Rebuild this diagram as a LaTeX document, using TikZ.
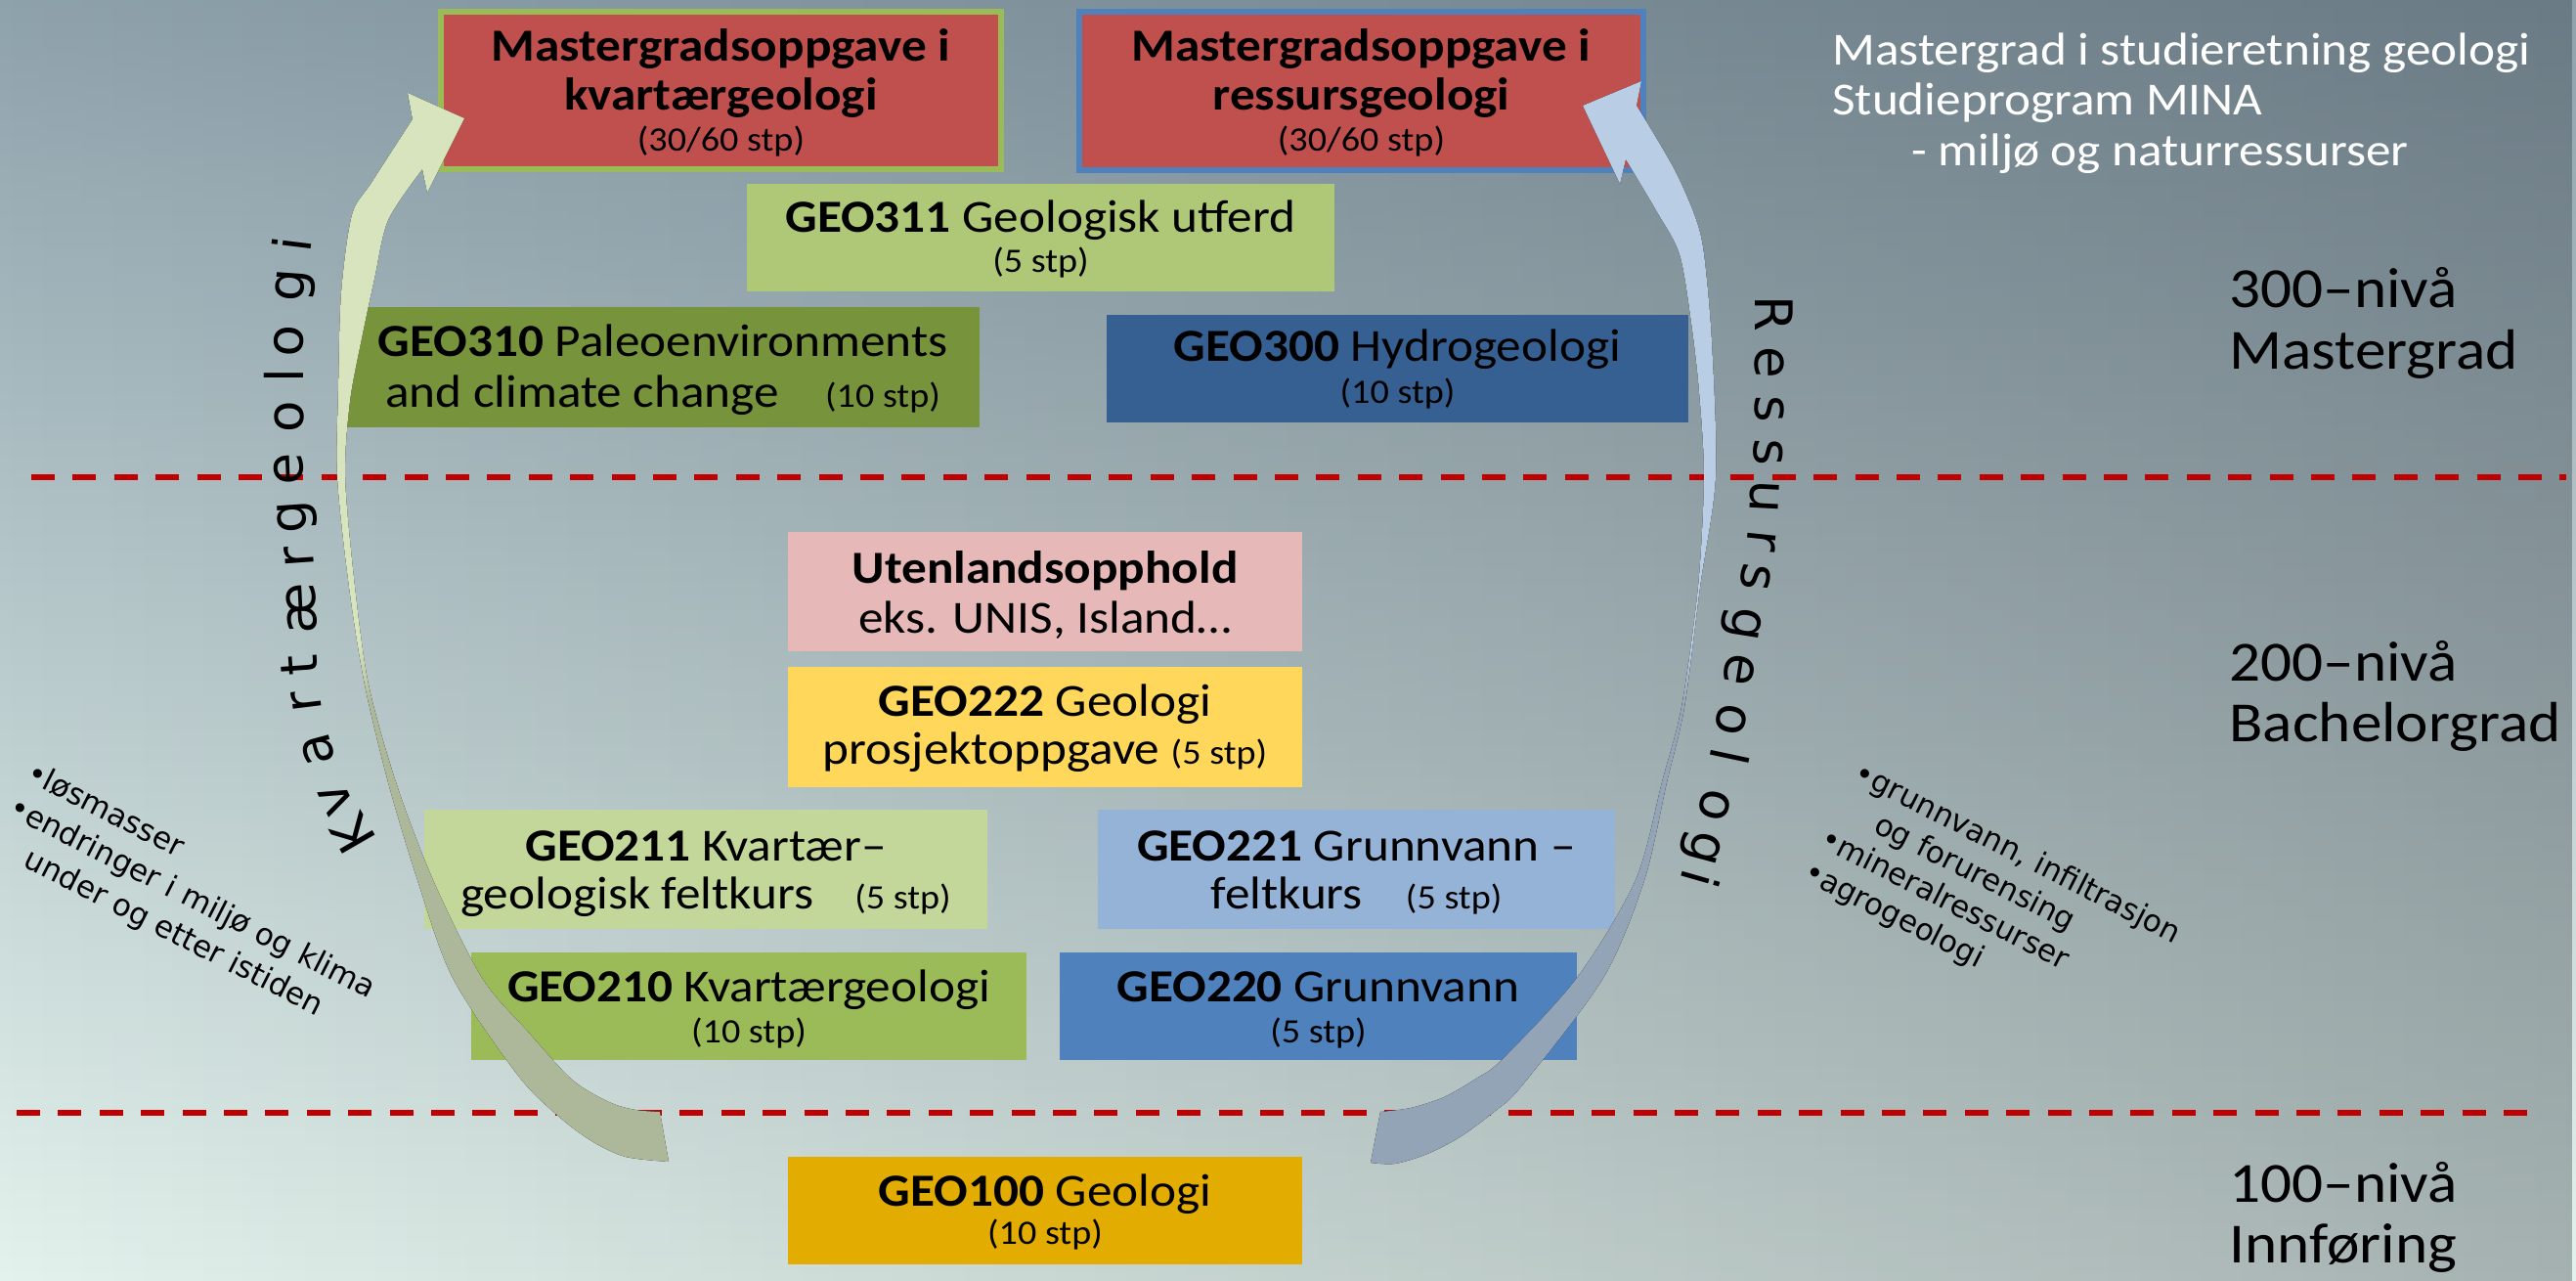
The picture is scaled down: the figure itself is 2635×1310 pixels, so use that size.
\documentclass[tikz,border=0pt]{standalone}
\usepackage{fontspec}
\setmainfont{Carlito}[FakeStretch=1.09]
\newfontfamily\dvs{DejaVu Sans}
\usetikzlibrary{fadings}
\definecolor{bgTL}{HTML}{8EA2AC}
\definecolor{bgML}{HTML}{B2C6CB}
\definecolor{bgBL}{HTML}{E3F2EC}
\definecolor{bgDK}{HTML}{1C232D}
\definecolor{mred}{HTML}{C0504D}
\definecolor{mgreen}{HTML}{9BBB59}
\definecolor{mblue}{HTML}{4F81BD}
\definecolor{c311}{HTML}{AEC878}
\definecolor{c310}{HTML}{77933C}
\definecolor{c300}{HTML}{376092}
\definecolor{cut}{HTML}{E6B9B8}
\definecolor{c222}{HTML}{FFD75A}
\definecolor{c211}{HTML}{C4D79B}
\definecolor{c221}{HTML}{95B3D7}
\definecolor{c210}{HTML}{9BBB59}
\definecolor{c220}{HTML}{4F81BD}
\definecolor{c100}{HTML}{E3AC00}
\definecolor{dred}{HTML}{C00000}
\definecolor{kvL}{HTML}{D7E4BD}
\definecolor{kvD}{HTML}{ADB89B}
\definecolor{rsL}{HTML}{B9CDE5}
\definecolor{rsD}{HTML}{94A4B7}
\newcommand\mainsz{\fontsize{23.5}{28}\selectfont}
\newcommand\smsz{\fontsize{17.5}{20}\selectfont}
\newcommand\lvlsz{\fontsize{29}{34}\selectfont}
\newcommand\bulsz{\dvs\fontsize{15.5}{18}\selectfont}
\newcommand\curvsz{\dvs\fontsize{26.5}{30}\selectfont}
\newcommand\rw[2]{\rule[-#2]{0pt}{\dimexpr#1+#2\relax}}
\renewcommand\arraystretch{0}
\tikzfading[name=fadeR, left color=transparent!100, right color=transparent!0]
\pgfdeclareverticalshading{kvsh}{100bp}{color(0bp)=(kvD); color(46.5bp)=(kvD); color(49.2bp)=(kvL); color(100bp)=(kvL)}
\pgfdeclareverticalshading{rssh}{100bp}{color(0bp)=(rsD); color(46.3bp)=(rsD); color(49bp)=(rsL); color(100bp)=(rsL)}
\begin{document}
\begin{tikzpicture}[x=0.5pt,y=-0.5pt,
  bx/.style={rectangle, inner sep=0pt, outer sep=0pt, font=\mainsz},
  lvl/.style={anchor=base west, inner sep=0pt, font=\lvlsz},
  wt/.style={anchor=base west, inner sep=0pt, font=\mainsz, text=white},
  bul/.style={anchor=base west, inner sep=0pt, rotate=-27, font=\bulsz},
  cl/.style={anchor=base, inner sep=0pt, font=\curvsz},
  dashln/.style={draw=dred, line width=3pt, dash pattern=on 12pt off 9.2pt}]
\useasboundingbox (0,0) rectangle (2635,1310);
% background
\fill[top color=bgTL, middle color=bgML, bottom color=bgBL] (0,0) rectangle (2635,1310);
\fill[bgDK, path fading=fadeR, fill opacity=0.31] (0,0) rectangle (2635,1310);
% dashed level lines
\coordinate (d1a) at (32,488);
\coordinate (d1b) at (2625,488);
\coordinate (d2a) at (17,1138);
\coordinate (d2b) at (2591,1138);
\draw[dashln] (d1a) -- (d1b);
\draw[dashln] (d2a) -- (d2b);
% boxes with their texts
\node[bx, fill=mred, draw=mgreen, line width=3pt, minimum width=286.5pt] (m1) at (737.5,92.5)
  {\begin{tabular}{@{}c@{}}\rw{25.5pt}{6.5pt}\bfseries Mastergradsoppgave i\\ \rw{18.5pt}{6.5pt}\bfseries kvartærgeologi\\ \rw{14.5pt}{9pt}\smsz (30/60 stp)\end{tabular}};
\node[bx, fill=mred, draw=mblue, line width=3pt, minimum width=288.5pt] (m2) at (1392.5,93)
  {\begin{tabular}{@{}c@{}}\rw{25.5pt}{6.5pt}\bfseries Mastergradsoppgave i\\ \rw{18.5pt}{6.5pt}\bfseries ressursgeologi\\ \rw{14.5pt}{9.5pt}\smsz (30/60 stp)\end{tabular}};
\node[bx, fill=c311, minimum width=300.5pt] (g311) at (1064.5,243)
  {\begin{tabular}{@{}c@{}}\rw{25pt}{6.5pt}\textbf{GEO311} Geologisk utferd\\ \rw{14pt}{9.5pt}\smsz (5 stp)\end{tabular}};
\node[bx, fill=c310, minimum width=324pt] (g310) at (678,375.5)
  {\begin{tabular}{@{}c@{}}\rw{25.5pt}{6.5pt}\textbf{GEO310} Paleoenvironments\\ \rw{19.5pt}{10pt}and climate change\hspace{23.5pt}{\smsz(10 stp)}\end{tabular}};
\node[bx, fill=c300, minimum width=297.5pt] (g300) at (1429.5,377)
  {\begin{tabular}{@{}c@{}}\rw{24pt}{6.5pt}\textbf{GEO300} Hydrogeologi\\ \rw{15pt}{9.5pt}\smsz (10 stp)\end{tabular}};
\node[bx, fill=cut, minimum width=263pt] (ut) at (1069,605)
  {\begin{tabular}{@{}c@{}}\rw{26pt}{6.5pt}\bfseries Utenlandsopphold\\ \rw{19pt}{9.5pt}eks. UNIS, Island…\end{tabular}};
\node[bx, fill=c222, minimum width=263pt] (g222) at (1069,743.5)
  {\begin{tabular}{@{}c@{}}\rw{25pt}{6.5pt}\textbf{GEO222} Geologi\\ \rw{18.25pt}{11.75pt}prosjektoppgave {\smsz(5 stp)}\end{tabular}};
\node[bx, fill=c211, minimum width=288pt] (g211) at (722,889)
  {\begin{tabular}{@{}c@{}}\rw{26pt}{6.5pt}\textbf{GEO211} Kvartær–\\ \rw{18pt}{10.5pt}geologisk feltkurs\hspace{21pt}{\smsz(5 stp)}\end{tabular}};
\node[bx, fill=c221, minimum width=264.5pt] (g221) at (1387.5,889)
  {\begin{tabular}{@{}c@{}}\rw{26pt}{6.5pt}\textbf{GEO221} Grunnvann –\\ \rw{18pt}{10.5pt}feltkurs\hspace{22pt}{\smsz(5 stp)}\end{tabular}};
\node[bx, fill=c210, minimum width=284pt] (g210) at (766,1029)
  {\begin{tabular}{@{}c@{}}\rw{25pt}{6.5pt}\textbf{GEO210} Kvartærgeologi\\ \rw{14.5pt}{9pt}\smsz (10 stp)\end{tabular}};
\node[bx, fill=c220, minimum width=264.5pt] (g220) at (1348.5,1029)
  {\begin{tabular}{@{}c@{}}\rw{25pt}{6.5pt}\textbf{GEO220} Grunnvann\\ \rw{14.5pt}{9pt}\smsz (5 stp)\end{tabular}};
\node[bx, fill=c100, minimum width=263pt] (g100) at (1069,1238)
  {\begin{tabular}{@{}c@{}}\rw{25.25pt}{5.8pt}\textbf{GEO100} Geologi\\ \rw{13.45pt}{10.5pt}\smsz (10 stp)\end{tabular}};
% curved arrows
\fill[shading=kvsh, shading angle=0]
  plot[smooth] coordinates {(422,122) (380,187) (360,220) (349,300) (346,400) (345,488) (357,600) (373,700) (397,800) (427,900) (463,1000) (530,1100) (573,1143) (607,1168) (640,1183) (684,1188)}
  -- plot[smooth] coordinates {(675,1137) (650,1135) (623,1127) (585,1104) (540,1055) (493,1000) (443,900) (405,800) (377,700) (363,600) (353,488) (358,410) (370,346) (383,285) (397,225) (432,173)}
  -- (437,197) -- (475,121) -- (417,95) -- cycle;
\fill[shading=rssh, shading angle=0]
  plot[smooth] coordinates {(1674,108) (1712,172) (1734,222) (1743,260) (1751,350) (1755,487) (1739,600) (1723,723) (1705,800) (1682,900) (1640,1000) (1557,1110) (1527,1138) (1493,1163) (1460,1180) (1427,1190) (1402,1189)}
  -- plot[smooth] coordinates {(1412,1137) (1443,1133) (1477,1122) (1510,1103) (1537,1083) (1613,1000) (1673,900) (1700,800) (1720,723) (1737,600) (1743,487) (1738,400) (1730,330) (1718,260) (1694,215) (1663,163)}
  -- (1657,188) -- (1619,108) -- (1679,83) -- cycle;
% level labels
\node[lvl] (l3a) at (2280,315) {300–nivå};
\node[lvl] (l3b) at (2280,378) {Mastergrad};
\node[lvl] (l2a) at (2280,696) {200–nivå};
\node[lvl] (l2b) at (2280,758) {Bachelorgrad};
\node[lvl] (l1a) at (2280,1229) {100–nivå};
\node[lvl] (l1b) at (2280,1291) {Innføring};
% title
\node[wt] (t1) at (1874,67) {Mastergrad i studieretning geologi};
\node[wt] (t2) at (1874,118) {Studieprogram MINA};
\node[wt] (t3) at (1955,170) {- miljø og naturressurser};
% bullet texts
\node[bul] (lb) at (25,797)
  {\begin{tabular}[t]{@{}l@{}}\rw{12pt}{6pt}•løsmasser\\ \rw{14pt}{6pt}•endringer i miljø og klima\\ \rw{14pt}{6pt}\hspace*{19pt}under og etter istiden\end{tabular}};
\node[bul] (rb) at (1894.5,797)
  {\begin{tabular}[t]{@{}l@{}}\rw{12pt}{6pt}•grunnvann, infiltrasjon\\ \rw{13pt}{6pt}\hspace*{21pt}og forurensing\\ \rw{13pt}{6pt}•mineralressurser\\ \rw{13pt}{6pt}•agrogeologi\end{tabular}};
% curved label: Kvartærgeologi
\node[cl, rotate=120] (kv1) at (378,843) {K};
\node[cl, rotate=115] (kv2) at (357,811) {v};
\node[cl, rotate=105] (kv3) at (339,763) {a};
\node[cl, rotate=97] (kv4) at (328,716) {r};
\node[cl, rotate=94] (kv5) at (325,679) {t};
\node[cl, rotate=93] (kv6) at (323,622) {æ};
\node[cl, rotate=94] (kv7) at (321,569) {r};
\node[cl, rotate=94] (kv8) at (313,528) {g};
\node[cl, rotate=92] (kv9) at (310,479) {e};
\node[cl, rotate=90] (kv10) at (310,426) {o};
\node[cl, rotate=90] (kv11) at (310,384) {l};
\node[cl, rotate=88] (kv12) at (310,349) {o};
\node[cl, rotate=86] (kv13) at (312,293) {g};
\node[cl, rotate=83] (kv14) at (318,252) {i};
% curved label: Ressursgeologi
\node[cl, rotate=-90] (rs1) at (1795,321) {R};
\node[cl, rotate=-90] (rs2) at (1795,371) {e};
\node[cl, rotate=-90] (rs3) at (1795,418) {s};
\node[cl, rotate=-91] (rs4) at (1794,462) {s};
\node[cl, rotate=-93] (rs5) at (1791,507) {u};
\node[cl, rotate=-96] (rs6) at (1787,551) {r};
\node[cl, rotate=-98] (rs7) at (1782,588) {s};
\node[cl, rotate=-99] (rs8) at (1772,636) {g};
\node[cl, rotate=-99] (rs9) at (1765,683) {e};
\node[cl, rotate=-100] (rs10) at (1757,733) {o};
\node[cl, rotate=-102] (rs11) at (1750,770) {l};
\node[cl, rotate=-103] (rs12) at (1740,820) {o};
\node[cl, rotate=-105] (rs13) at (1730,864) {g};
\node[cl, rotate=-106] (rs14) at (1720,894) {i};
\end{tikzpicture}
\end{document}
